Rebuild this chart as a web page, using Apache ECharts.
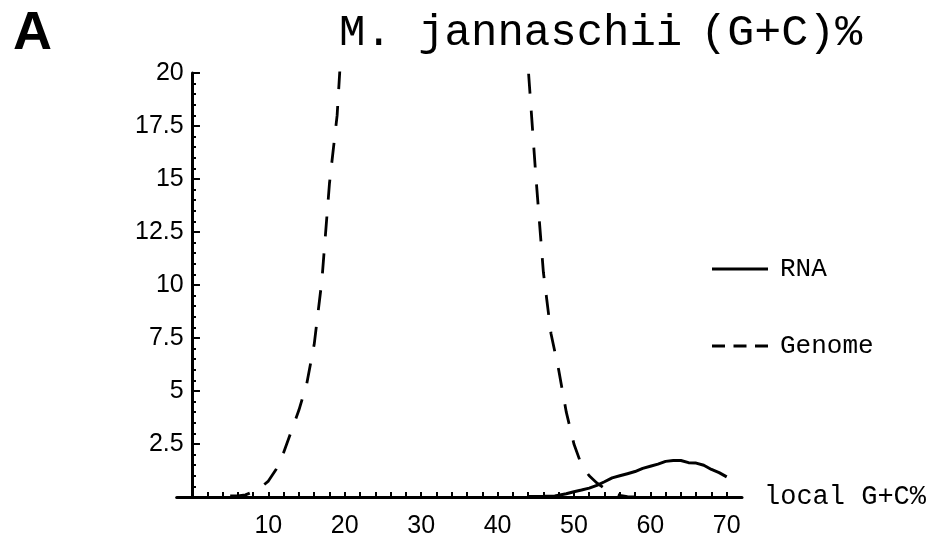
<!DOCTYPE html>
<html><head><meta charset="utf-8">
<script src="https://cdn.jsdelivr.net/npm/echarts@6/dist/echarts.min.js"></script>
<style>html,body{margin:0;padding:0;background:#fff}#c{width:932px;height:547px}</style>
</head><body><div id="c"></div>
<script>
// local G+C% positions and values
const genomeGC  = [5, 6, 7, 8, 9, 10, 11, 12, 13, 14, 15, 16, 17, 18, 19, 20, 22, 25, 28, 31, 34, 37, 40, 42, 43, 44, 45, 46, 47, 48, 49, 50, 51, 52, 53, 54, 55, 56, 57, 58];
const genomeVal = [0.05, 0.05, 0.1, 0.25, 0.45, 0.75, 1.3, 2.1, 3.1, 4.1, 5.3, 7.2, 10.2, 14.8, 18.0, 24, 35, 45, 52, 55, 52, 45, 35, 28, 24, 20.3, 15.2, 10.6, 7.7, 6.0, 4.0, 2.5, 1.5, 1.0, 0.66, 0.4, 0.2, 0.08, 0.02, 0];
const rnaGC  = [44, 46, 47.5, 49, 50, 51, 52, 53, 54, 55, 56, 57, 58, 59, 60, 61, 62, 63, 64, 65, 66, 67, 68, 69, 70];
const rnaVal = [0.02, 0.03, 0.05, 0.15, 0.25, 0.33, 0.42, 0.55, 0.72, 0.9, 1.0, 1.1, 1.2, 1.35, 1.45, 1.55, 1.68, 1.72, 1.72, 1.62, 1.6, 1.5, 1.3, 1.15, 0.95];
const xLabelValues = [10, 20, 30, 40, 50, 60, 70];
const xTickValues = [2,4,6,8,10,12,14,16,18,20,22,24,26,28,30,32,34,36,38,40,42,44,46,48,50,52,54,56,58,60,62,64,66,68,70];
const seriesNames = ['RNA', 'Genome'];

const chart = echarts.init(document.getElementById('c'));
const mono = '"Liberation Mono", "DejaVu Sans Mono", monospace';
const sans = '"Liberation Sans", Arial, sans-serif';
chart.setOption({
  backgroundColor: '#fff',
  animation: false,
  title: [
    {text: 'A', left: 8, top: 2, textStyle: {fontFamily: sans, fontWeight: 'bold', fontSize: 54, color: '#000'}},
    {text: '{a|M. jannaschii}{s| }{b|(G+C)%}', left: 334, top: 6,
     textStyle: {fontWeight: 'normal', rich: {
       a: {fontFamily: mono, fontSize: 44, fontWeight: 'normal', color: '#000'},
       s: {fontFamily: mono, fontSize: 30, fontWeight: 'normal'},
       b: {fontFamily: mono, fontSize: 45, fontWeight: 'normal', color: '#000'}
     }}}
  ],
  legend: {
    orient: 'vertical', left: 707, top: 249,
    itemWidth: 56, itemHeight: 3, itemGap: 47,
    textStyle: {fontFamily: mono, fontSize: 26, color: '#000', padding: [0, 0, 0, 7], lineHeight: 30},
    data: [
      {name: seriesNames[0], icon: 'rect', itemStyle: {color: '#000'}},
      {name: seriesNames[1], icon: 'path://M0,0h13v3h-13z M21.5,0h13v3h-13z M43,0h13v3h-13z', itemStyle: {color: '#000'}}
    ]
  },
  grid: {left: 176.7, right: 190, top: 73, bottom: 50, containLabel: false},
  xAxis: {
    type: 'value', min: -2, max: 72,
    name: 'local G+C%', nameLocation: 'end', nameGap: 22,
    nameTextStyle: {fontFamily: mono, fontSize: 27, color: '#000', verticalAlign: 'middle'},
    axisLine: {show: true, onZero: false, lineStyle: {color: '#000', width: 3}},
    axisTick: {show: true, inside: true, length: 5, customValues: xTickValues, lineStyle: {color: '#000', width: 2}},
    axisLabel: {customValues: xLabelValues, margin: 17, fontFamily: sans, fontSize: 25, color: '#000'},
    splitLine: {show: false}
  },
  yAxis: {
    type: 'value', min: 0, max: 20, interval: 2.5,
    axisLine: {show: true, onZero: true, lineStyle: {color: '#000', width: 3}},
    axisTick: {show: true, inside: true, length: 8, lineStyle: {color: '#000', width: 2}},
    minorTick: {show: true, splitNumber: 5, length: 4, lineStyle: {color: '#000', width: 2}},
    axisLabel: {margin: -7, fontFamily: sans, fontSize: 25, color: '#000',
      formatter: v => v === 0 ? '' : String(v)},
    splitLine: {show: false}
  },
  series: [
    {name: seriesNames[0], type: 'line', symbol: 'none', clip: true,
     data: rnaGC.map((x, i) => [x, rnaVal[i]]),
     lineStyle: {color: '#000', width: 3, type: 'solid'}, itemStyle: {color: '#000'}},
    {name: seriesNames[1], type: 'line', symbol: 'none', clip: true,
     data: genomeGC.map((x, i) => [x, genomeVal[i]]),
     lineStyle: {color: '#000', width: 2.8, type: [20, 17]}, itemStyle: {color: '#000'}}
  ]
});
</script></body></html>
